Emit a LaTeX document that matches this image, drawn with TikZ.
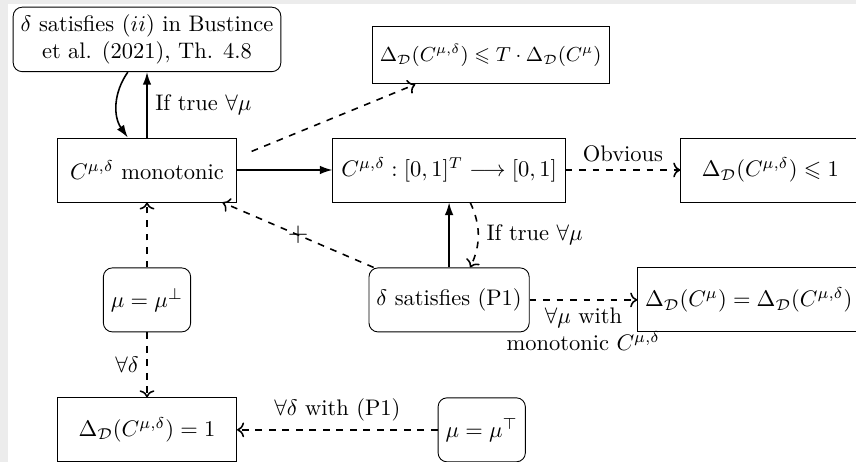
\documentclass[tikz,border=0pt]{standalone}
\usepackage{amsmath,amssymb}
\usetikzlibrary{arrows.meta}
\definecolor{pagegray}{RGB}{236,236,236}
\tikzset{
  box/.style={draw, minimum height=1cm},
  rbox/.style={box, rounded corners},
  wbox/.style={box, minimum width=2.8cm},
  strong/.style={line width=0.7pt, -{Latex[length=5.6pt,width=3.8pt]}},
  weak/.style={line width=0.7pt, dashed, ->},
  notmark/.style={inner sep=0pt, font=\large},
}

\begin{document}
\begin{tikzpicture}
    % Page
    \clip (-2.297,-4.5625) rectangle (11.078,2.656);
    \fill[pagegray] (-2.297,-4.5625) rectangle (11.078,2.656);
    \fill[white] (-2.172,-4.5625) rectangle (11.078,2.594);

    % Boxes
    \node[rbox, align=center] (bust) at (0,2.04) {$\delta$ satisfies $(ii)$ in Bustince\\ et al. (2021), Th. 4.8};
    \node[wbox] (mono) at (0,0) {$C^{\mu,\delta}$ monotonic};
    \node[box, minimum width=3.63cm] (map) at (4.72,0) {$C^{\mu,\delta}:[0,1]^T\longrightarrow[0,1]$};
    \node[wbox] (le1) at (9.74,0) {$\Delta_{\mathcal{D}}(C^{\mu,\delta})\leqslant 1$};
    \node[box, minimum height=0.89cm, font=\small] (bound) at (5.37,1.79) {$\Delta_{\mathcal{D}}(C^{\mu,\delta})\leqslant T\cdot\Delta_{\mathcal{D}}(C^{\mu})$};
    \node[rbox] (p1) at (4.72,-2.03) {$\delta$ satisfies (P1)};
    \node[box, anchor=west] (eq) at (7.66,-2.03) {$\Delta_{\mathcal{D}}(C^{\mu})=\Delta_{\mathcal{D}}(C^{\mu,\delta})$};
    \node[rbox] (mubot) at (0,-2.03) {$\mu=\mu^{\perp}$};
    \node[wbox] (one) at (0,-4.06) {$\Delta_{\mathcal{D}}(C^{\mu,\delta})=1$};
    \node[rbox] (mutop) at (5.23,-4.06) {$\mu=\mu^{\top}$};

    % Solid arrows
    \draw[strong] (mono) -- node[right] {If true $\forall\mu$} (bust);
    \draw[strong] ([xshift=-0.3cm]bust.south) to[bend right=35] ([xshift=-0.3cm]mono.north);
    \draw[strong] (mono) -- (map);
    \draw[strong] (p1) -- (map);

    % Dashed arrows
    \draw[weak, shorten <=7pt] (mono.8) -- (bound.201);
    \draw[weak] (map) -- node[above] {Obvious} (le1);
    \draw[weak] ([xshift=0.33cm]map.south) to[bend left=25] node[right] {If true $\forall\mu$} ([xshift=0.33cm]p1.north);
    \draw[weak] (p1) -- node[notmark] {$+$} (mono);
    \draw[weak] (p1) -- node[below, align=center] {$\forall\mu$ with\\ monotonic $C^{\mu,\delta}$} (eq);
    \draw[weak] (mubot) -- (mono);
    \draw[weak] (mubot) -- node[left] {$\forall\delta$} (one);
    \draw[weak] (mutop) -- node[above] {$\forall\delta$ with (P1)} (one);
\end{tikzpicture}
\end{document}
